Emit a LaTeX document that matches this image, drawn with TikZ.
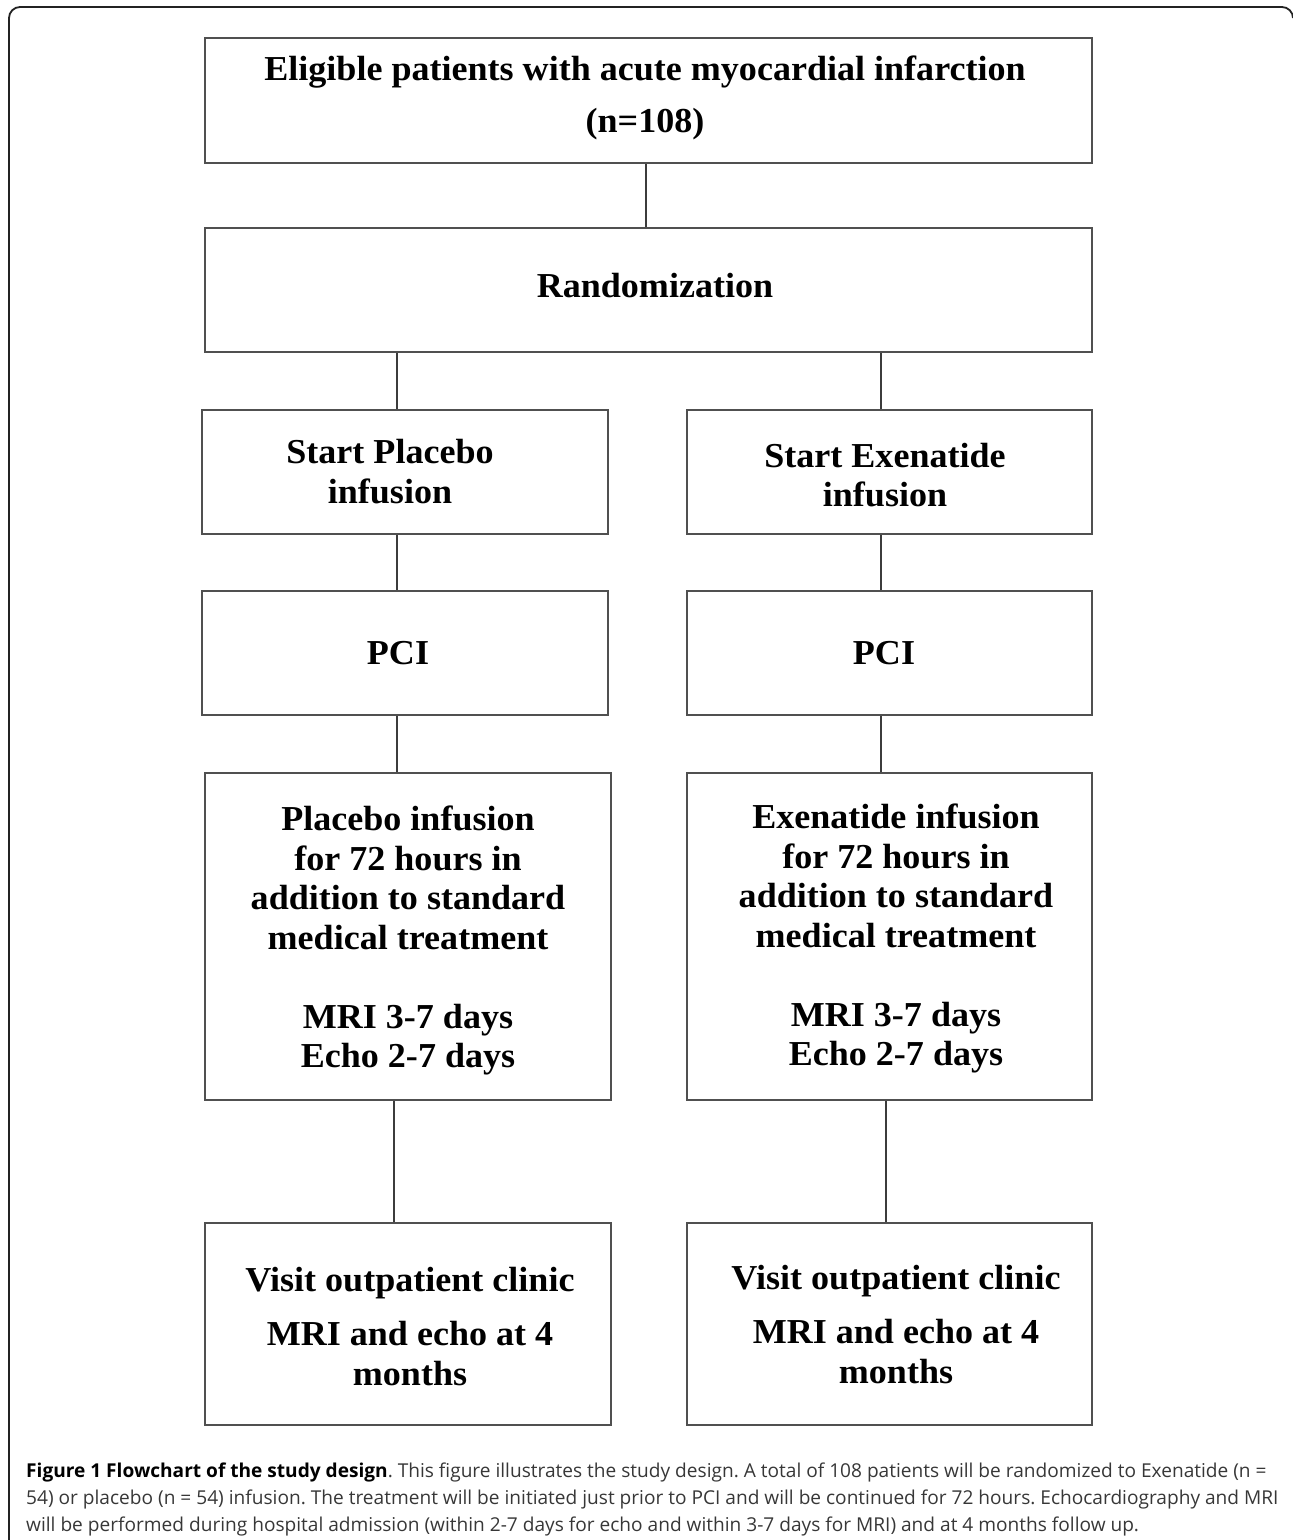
\documentclass[tikz,border=0pt]{standalone}
\usepackage{fontspec}
\setmainfont[FakeStretch=1.03]{Liberation Serif}
\newfontfamily\capfont{Open Sans}
\definecolor{boxgray}{RGB}{80,80,80}
\definecolor{linegray}{RGB}{60,60,60}
\definecolor{capgray}{RGB}{55,55,55}
\definecolor{framecol}{RGB}{35,35,35}
\begin{document}
\frenchspacing
\begin{tikzpicture}[x=1pt,y=-1pt,
  box/.style={draw=boxgray, line width=2.6pt, inner sep=0pt, fill=none},
  btext/.style={inner sep=0pt, align=center, font=\bfseries\fontsize{35}{39.5}\selectfont},
  conn/.style={draw=linegray, line width=2pt},
  frame/.style={draw=framecol, line width=1.8pt}]
\useasboundingbox (0,0) rectangle (1293,1540);
% outer frame
\draw[frame] (9,1545) -- (9,18) arc[start angle=180,end angle=270,radius=11] -- (1282,7) arc[start angle=270,end angle=360,radius=11];
% boxes
\node[box, minimum width=887pt, minimum height=125pt] (b1) at (648.5,100.5) {};
\node[box, minimum width=887pt, minimum height=124pt] (b2) at (648.5,290) {};
\node[box, minimum width=406pt, minimum height=124pt] (b3l) at (405,472) {};
\node[box, minimum width=405pt, minimum height=124pt] (b3r) at (889.5,472) {};
\node[box, minimum width=406pt, minimum height=124pt] (b4l) at (405,653) {};
\node[box, minimum width=405pt, minimum height=124pt] (b4r) at (889.5,653) {};
\node[box, minimum width=406pt, minimum height=327pt] (b5l) at (408,936.5) {};
\node[box, minimum width=405pt, minimum height=327pt] (b5r) at (889.5,936.5) {};
\node[box, minimum width=406pt, minimum height=202pt] (b6l) at (408,1324) {};
\node[box, minimum width=405pt, minimum height=202pt] (b6r) at (889.5,1324) {};
% texts
\node[btext, font=\bfseries\fontsize{35}{52}\selectfont] (t1) at (645,98) {Eligible patients with acute myocardial infarction\\(n=108)};
\node[btext] (t2) at (655,286) {Randomization};
\node[btext] (t3l) at (390,471.5) {Start Placebo\\infusion};
\node[btext] (t3r) at (885,475) {Start Exenatide\\infusion};
\node[btext] (t4l) at (398,653) {PCI};
\node[btext] (t4r) at (884,653) {PCI};
\node[btext] (t5l) at (408,940.5) {Placebo infusion\\for 72 hours in\\addition to standard\\medical treatment\\[39.5pt]MRI 3-7 days\\Echo 2-7 days};
\node[btext] (t5r) at (896,938.5) {Exenatide infusion\\for 72 hours in\\addition to standard\\medical treatment\\[39.5pt]MRI 3-7 days\\Echo 2-7 days};
\node[btext] (t6l) at (410,1326.5) {Visit outpatient clinic\\[15pt]MRI and echo at 4\\months};
\node[btext] (t6r) at (896,1324.5) {Visit outpatient clinic\\[15pt]MRI and echo at 4\\months};
% connector x positions
\coordinate (xm) at (646,0);
\coordinate (xl) at (397,0);
\coordinate (xr) at (881,0);
\coordinate (xl2) at (394,0);
\coordinate (xr2) at (886,0);
\draw[conn] (b1.south -| xm) -- (b2.north -| xm);
\draw[conn] (b2.south -| xl) -- (b3l.north -| xl);
\draw[conn] (b2.south -| xr) -- (b3r.north -| xr);
\draw[conn] (b3l.south -| xl) -- (b4l.north -| xl);
\draw[conn] (b3r.south -| xr) -- (b4r.north -| xr);
\draw[conn] (b4l.south -| xl) -- (b5l.north -| xl);
\draw[conn] (b4r.south -| xr) -- (b5r.north -| xr);
\draw[conn] (b5l.south -| xl2) -- (b6l.north -| xl2);
\draw[conn] (b5r.south -| xr2) -- (b6r.north -| xr2);
% caption
\node[anchor=north west, inner sep=0pt, align=left, text=capgray, font=\capfont\fontsize{19.1}{27}\selectfont] (cap) at (26,1463)
{{\bfseries\color{black}Figure 1 Flowchart of the study design}. This figure illustrates the study design. A total of 108 patients will be randomized to Exenatide (n =\\
54) or placebo (n = 54) infusion. The treatment will be initiated just prior to PCI and will be continued for 72 hours. Echocardiography and MRI\\
will be performed during hospital admission (within 2-7 days for echo and within 3-7 days for MRI) and at 4 months follow up.};
\end{tikzpicture}
\end{document}
